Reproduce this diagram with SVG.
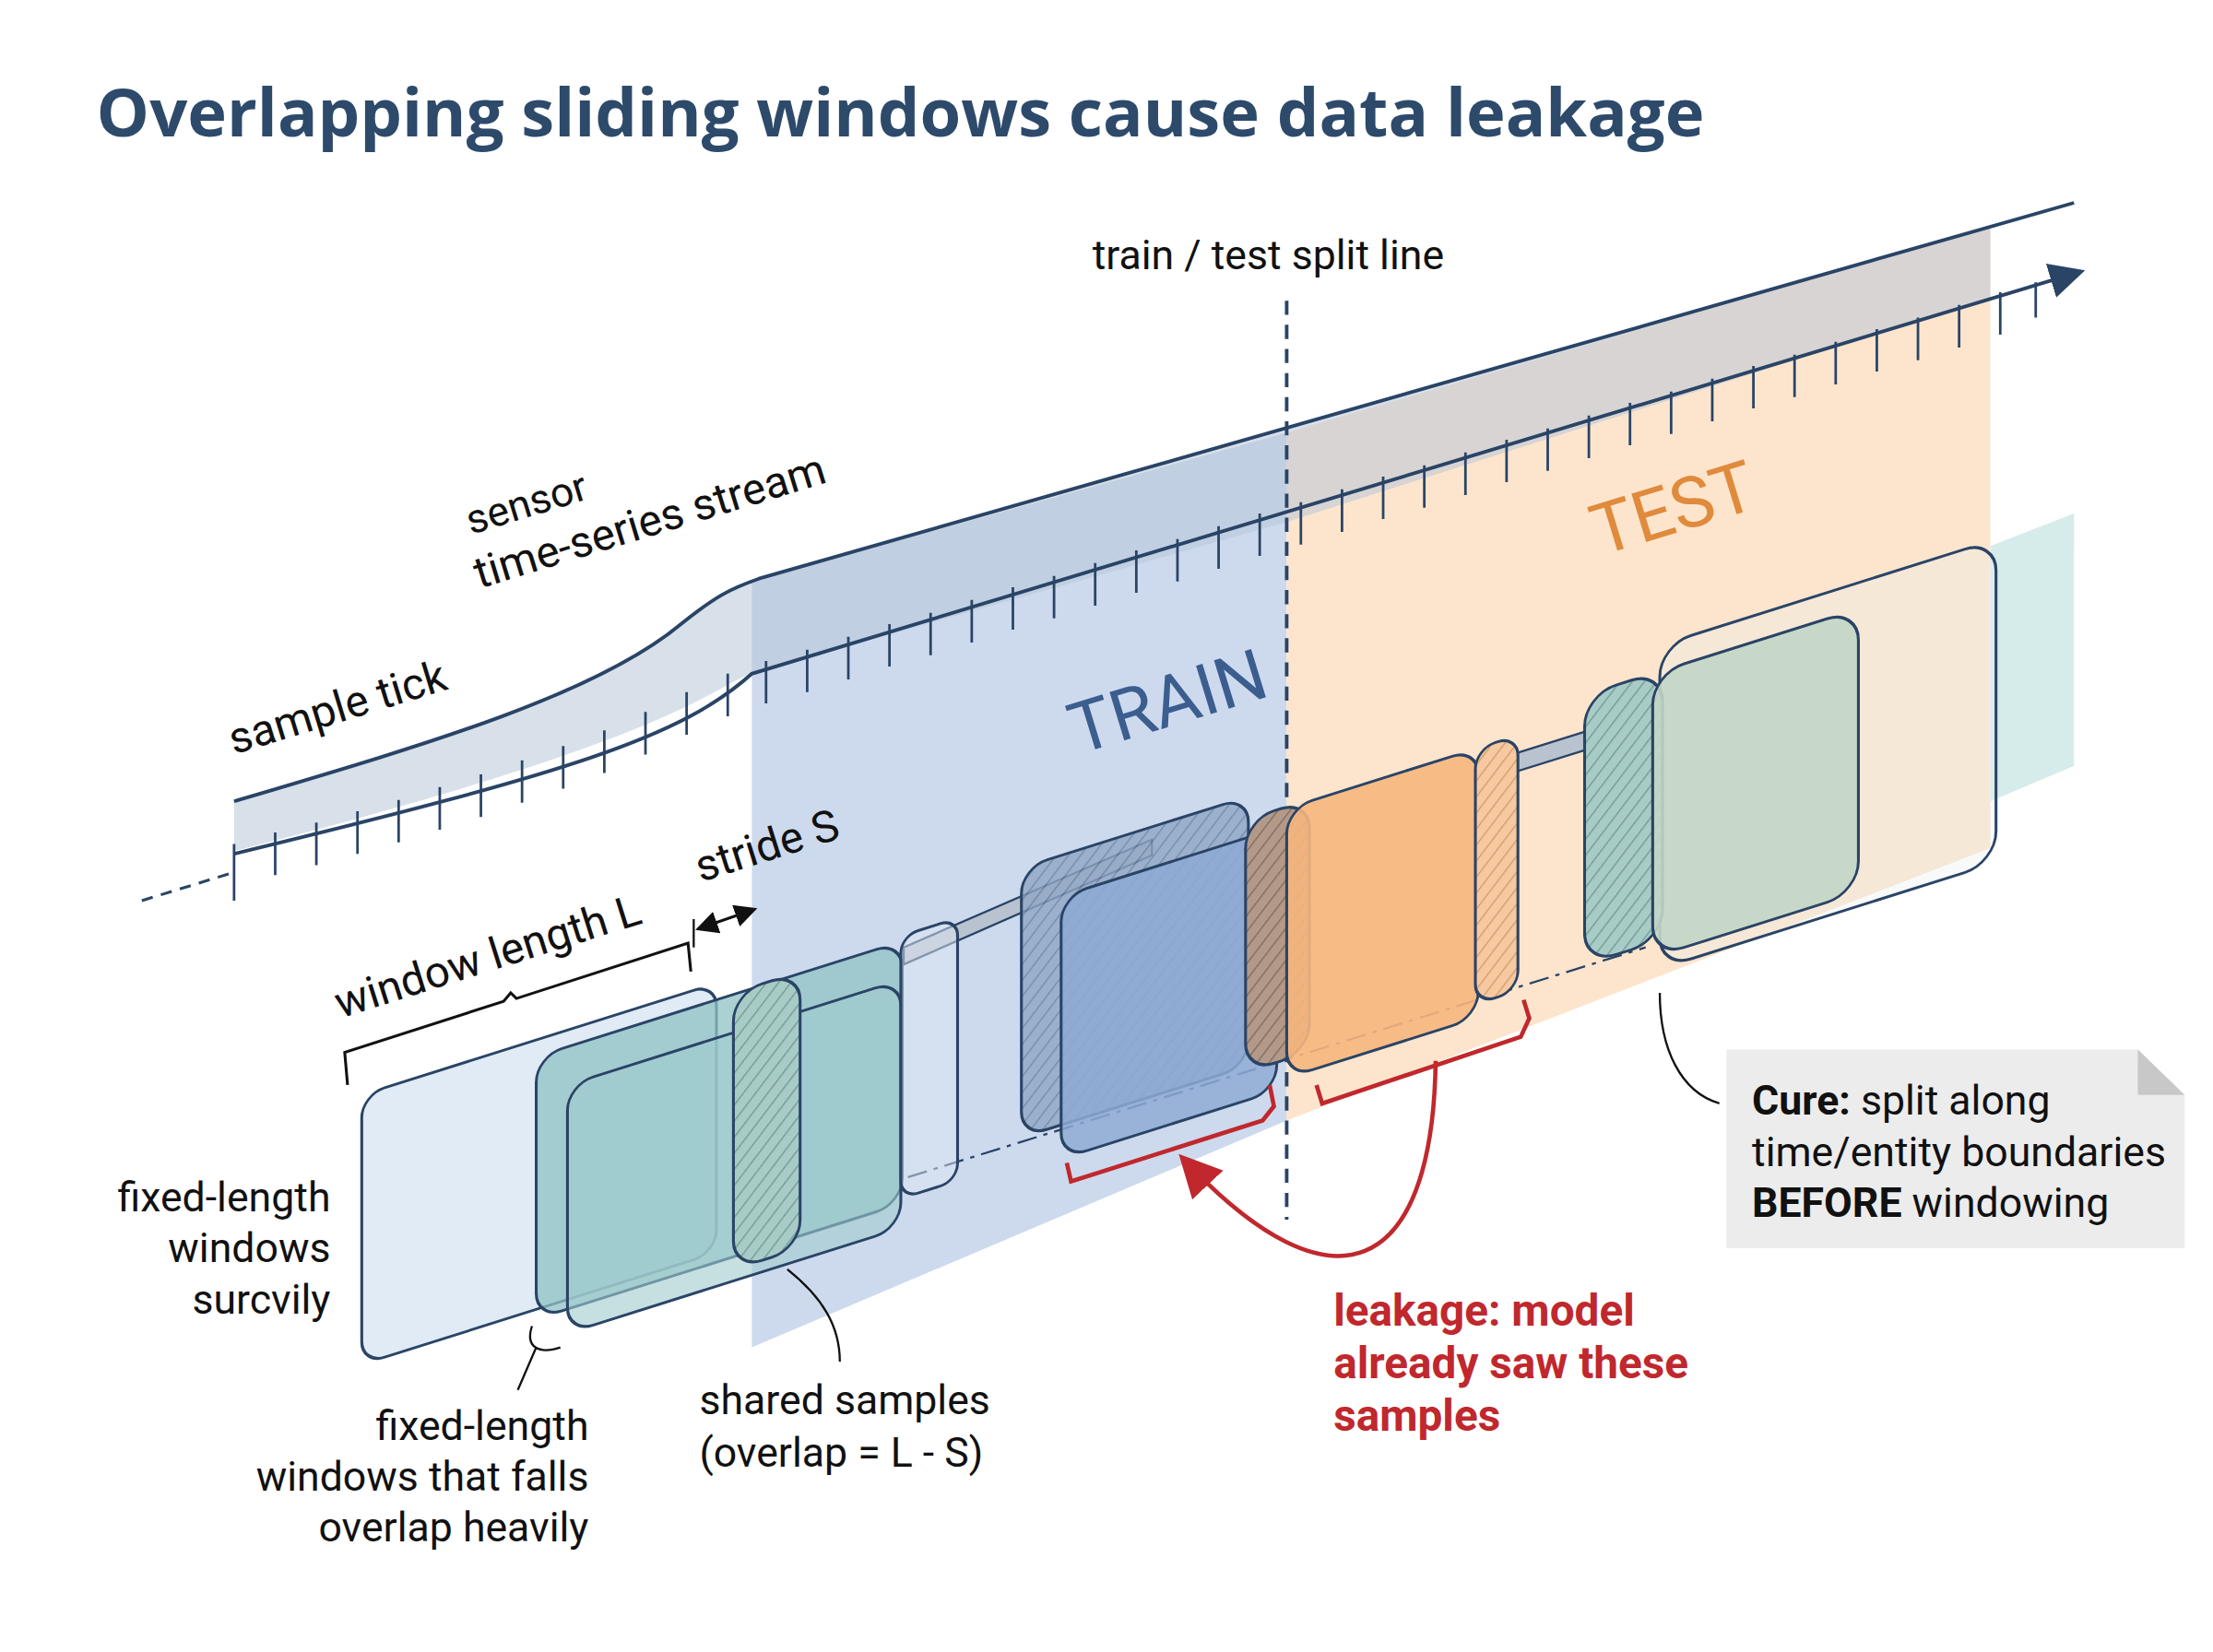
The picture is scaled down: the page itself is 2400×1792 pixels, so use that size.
<svg xmlns="http://www.w3.org/2000/svg" width="2400" height="1792" viewBox="0 0 2400 1792">
<defs>
<pattern id="hb" width="8" height="8" patternUnits="userSpaceOnUse" patternTransform="rotate(45)"><rect width="8" height="8" fill="#8fa6c4"/><line x1="0" y1="0" x2="0" y2="8" stroke="#5f7698" stroke-width="2"/></pattern>
<pattern id="hbr" width="8" height="8" patternUnits="userSpaceOnUse" patternTransform="rotate(45)"><rect width="8" height="8" fill="#b39a88"/><line x1="0" y1="0" x2="0" y2="8" stroke="#7d6a5e" stroke-width="2"/></pattern>
<pattern id="ho" width="8" height="8" patternUnits="userSpaceOnUse" patternTransform="rotate(45)"><rect width="8" height="8" fill="#f6c9a0"/><line x1="0" y1="0" x2="0" y2="8" stroke="#d49a6b" stroke-width="2"/></pattern>
<pattern id="ht" width="8" height="8" patternUnits="userSpaceOnUse" patternTransform="rotate(45)"><rect width="8" height="8" fill="#a9cbc6"/><line x1="0" y1="0" x2="0" y2="8" stroke="#6c9a95" stroke-width="2"/></pattern>
<marker id="ar" markerWidth="10" markerHeight="10" refX="8" refY="5" orient="auto"><path d="M0,0 L10,5 L0,10 z" fill="#2a4466"/></marker>
<marker id="arr" markerWidth="10" markerHeight="10" refX="8" refY="5" orient="auto"><path d="M0,0 L10,5 L0,10 z" fill="#c0282d"/></marker>
<marker id="ak" markerWidth="8" markerHeight="8" refX="7" refY="4" orient="auto-start-reverse"><path d="M0,0 L8,4 L0,8 z" fill="#111"/></marker>
</defs>
<style>
.t{font-family:Roboto,"Liberation Sans",sans-serif;fill:#111;font-size:29px}
.w{stroke:#2a4466;stroke-width:2}
.ln{stroke:#2a4466;stroke-width:2.5;fill:none}
</style>
<rect width="2400" height="1792" fill="#fff"/>
<g transform="scale(1.5385)">
<text x="68" y="96" style="font-family:'Open Sans',Roboto,sans-serif;font-weight:700;font-size:47px;fill:#2d4a6b">Overlapping sliding windows cause data leakage</text>
<g id="regions">
<path d="M530,410 L907,305 L907,790 L530,950 Z" fill="#c8d6ec" opacity="0.9"/>
<path d="M907,305 L1403,160 L1403,598 L907,790 Z" fill="#fde2c8" opacity="0.9"/>
<path d="M1403,385 L1462,362 L1462,540 L1403,565 Z" fill="#d6ecea"/>
<path d="M165,565 C300,525 420,490 480,440 C505,420 515,415 535,408 L1403,160 L1403,210 L907,368 L530,475 C500,485 480,520 165,600 Z" fill="#b8c6d8" opacity="0.55"/>
</g>
<g id="stream">
<path class="ln" d="M165,565 C300,525 420,490 480,440 C505,420 515,415 535,408 L1462,143"/>
<path class="ln" d="M165,602 C400,545 480,520 530,475 L1465,192" marker-end="url(#ar)"/>
<line x1="100" y1="635" x2="165" y2="615" stroke="#2a4466" stroke-width="2" stroke-dasharray="8,6"/>
<path stroke="#2a4466" stroke-width="1.8" d="M165,595v40 M194,587v30 M223,580v30 M252,572v30 M281,564v30 M310,555v30 M339,546v30 M368,536v30 M397,526v30 M426,515v30 M455,502v30 M484,488v30 M513,475v30 M540,466v30 M569,458v30 M598,449v30 M627,440v30 M656,432v30 M685,423v30 M714,414v30 M743,406v30 M772,397v30 M801,388v30 M830,380v30 M859,371v30 M888,362v30 M917,354v30 M946,345v30 M975,336v30 M1004,328v30 M1033,319v30 M1062,310v30 M1091,302v30 M1120,293v30 M1149,284v30 M1178,276v30 M1207,267v30 M1236,258v30 M1265,250v30 M1294,241v30 M1323,232v30 M1352,224v30 M1381,215v30 M1410,206v30 M1435,199v25"/>
<line x1="907" y1="212" x2="907" y2="860" stroke="#2a4466" stroke-width="2.5" stroke-dasharray="10,7"/>
<line x1="640" y1="830" x2="1160" y2="668" stroke="#2a4466" stroke-width="1.5" stroke-dasharray="14,5,3,5"/>
<path d="M637,668 L812,592 L812,603 L637,680 Z" fill="#b9c3cf" stroke="#2a4466" stroke-width="1.5"/>
<path d="M1040,540 L1120,515 L1120,528 L1040,553 Z" fill="#b9c3cf" stroke="#2a4466" stroke-width="1.5"/>
</g>
<g id="windows">
<g transform="translate(255,772) skewY(-17.5)"><rect width="250" height="190" rx="16" fill="#dbe8f3" fill-opacity="0.85" class="w"/></g>
<g transform="translate(378,745) skewY(-17.5)"><rect width="258" height="185" rx="18" fill="#8fc2c4" fill-opacity="0.75" class="w"/></g>
<g transform="translate(400,765) skewY(-17.5)"><rect width="235" height="175" rx="18" fill="#a0cccd" fill-opacity="0.6" class="w"/></g>
<g transform="translate(517,700) skewY(-17.5)"><rect width="47" height="195" rx="20" fill="url(#ht)" class="w"/></g>
<g transform="translate(635,660) skewY(-17.5)"><rect width="40" height="185" rx="12" fill="#dde6f1" fill-opacity="0.5" class="w"/></g>
<g transform="translate(720,612) skewY(-17.5)"><rect width="160" height="190" rx="18" fill="url(#hb)" fill-opacity="0.8" class="w"/></g>
<g transform="translate(748,632) skewY(-17.5)"><rect width="152" height="185" rx="18" fill="#8eaad4" fill-opacity="0.85" class="w"/></g>
<g transform="translate(878,578) skewY(-17.5)"><rect width="45" height="178" rx="20" fill="url(#hbr)" class="w"/></g>
<g transform="translate(907,570) skewY(-17.5)"><rect width="135" height="190" rx="18" fill="#f6b67e" fill-opacity="0.9" class="w"/></g>
<g transform="translate(1040,528) skewY(-17.5)"><rect width="30" height="180" rx="14" fill="url(#ho)" class="w"/></g>
<g transform="translate(1170,455) skewY(-17.5)"><rect width="237" height="228" rx="22" fill="#e8eef0" fill-opacity="0.3" class="w"/></g>
<g transform="translate(1117,490) skewY(-17.5)"><rect width="55" height="190" rx="22" fill="url(#ht)" class="w"/></g>
<g transform="translate(1165,475) skewY(-17.5)"><rect width="145" height="200" rx="22" fill="#c3d6c6" fill-opacity="0.9" class="w"/></g>
</g>
<g id="annotations" fill="none">
<path d="M245,765 L243,742 L355,706 L360,700 L364,704 L485,665 L487,685" stroke="#111" stroke-width="2"/>
<line x1="492" y1="655" x2="532" y2="641" stroke="#111" stroke-width="2" marker-start="url(#ak)" marker-end="url(#ak)"/>
<line x1="489" y1="648" x2="489" y2="668" stroke="#111" stroke-width="1.5"/>
<path d="M752,820 L755,833 L890,790 L898,780 L895,765" stroke="#c0282d" stroke-width="3"/>
<path d="M928,765 L932,778 L1072,731 L1078,718 L1074,705" stroke="#c0282d" stroke-width="3"/>
<path d="M1012,748 C1010,900 940,930 835,818" stroke="#c0282d" stroke-width="3" marker-end="url(#arr)"/>
<path d="M375,935 C370,950 380,955 395,950 M378,950 L365,980" stroke="#111" stroke-width="1.5"/>
<path d="M555,895 C580,915 592,935 592,960" stroke="#111" stroke-width="1.5"/>
<path d="M1170,700 C1170,740 1185,770 1212,778" stroke="#111" stroke-width="1.5"/>
</g>
<g id="cure">
<path d="M1217,740 L1507,740 L1540,772 L1540,880 L1217,880 Z" fill="#ececec"/>
<path d="M1507,740 L1507,772 L1540,772 Z" fill="#c8c8c8"/>
<text class="t" x="1235" y="786"><tspan font-weight="700">Cure:</tspan> split along</text>
<text class="t" x="1235" y="822">time/entity boundaries</text>
<text class="t" x="1235" y="858"><tspan font-weight="700">BEFORE</tspan> windowing</text>
</g>
<g id="labels">
<text class="t" x="770" y="190">train / test split line</text>
<text class="t" transform="translate(332,377) rotate(-17)">sensor</text>
<text class="t" transform="translate(338,415) rotate(-17)" style="font-size:31px">time-series stream</text>
<text class="t" transform="translate(165,532) rotate(-17)" style="font-size:31px">sample tick</text>
<text class="t" transform="translate(240,718) rotate(-17.5)" style="font-size:31px">window length L</text>
<text class="t" transform="translate(494,622) rotate(-17.5)" style="font-size:31px">stride S</text>
<text transform="translate(760,532) rotate(-17)" style="font-family:Roboto,sans-serif;font-size:50px;fill:#3b5e8f">TRAIN</text>
<text transform="translate(1128,392) rotate(-17)" style="font-family:Roboto,sans-serif;font-size:50px;fill:#e08a3c">TEST</text>
<g text-anchor="end"><text class="t" x="233" y="854">fixed-length</text><text class="t" x="233" y="890">windows</text><text class="t" x="233" y="926">surcvily</text></g>
<g text-anchor="end"><text class="t" x="415" y="1015">fixed-length</text><text class="t" x="415" y="1051">windows that falls</text><text class="t" x="415" y="1087">overlap heavily</text></g>
<text class="t" x="493" y="997">shared samples</text>
<text class="t" x="493" y="1034">(overlap = L - S)</text>
<g style="font-family:Roboto,sans-serif;font-weight:700;font-size:31px;fill:#c0282d"><text x="940" y="935">leakage: model</text><text x="940" y="972">already saw these</text><text x="940" y="1009">samples</text></g>
</g>
</g>
</svg>
